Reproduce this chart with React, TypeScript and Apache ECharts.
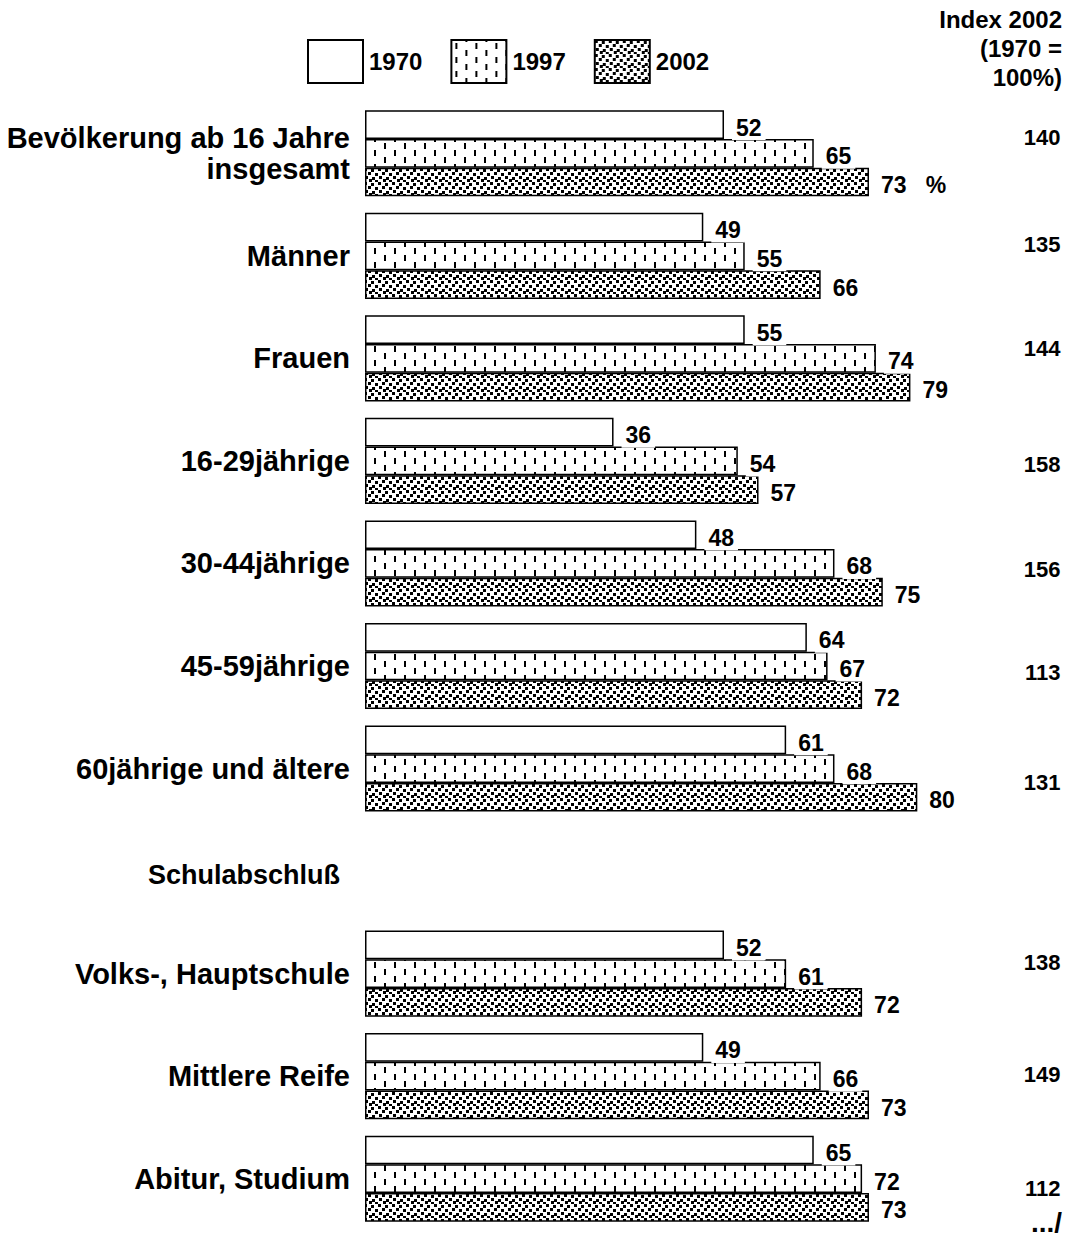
import React, { useEffect, useRef } from "react";
import * as echarts from "echarts";

const categories = [
  "Bevölkerung ab 16 Jahre\ninsgesamt",
  "Männer",
  "Frauen",
  "16-29jährige",
  "30-44jährige",
  "45-59jährige",
  "60jährige und ältere",
  "Schulabschluß",
  "Volks-, Hauptschule",
  "Mittlere Reife",
  "Abitur, Studium",
];
const seriesNames = ["1970", "1997", "2002"];
const v1970: (number | string)[] = [52, 49, 55, 36, 48, 64, 61, "-", 52, 49, 65];
const v1997: (number | string)[] = [65, 55, 74, 54, 68, 67, 68, "-", 61, 66, 72];
const v2002: (number | string)[] = [73, 66, 79, 57, 75, 72, 80, "-", 72, 73, 73];
const index2002 = ["140", "135", "144", "158", "156", "113", "131", "", "138", "149", "112"];
// vertical nudge (px, positive = down) of each index label, as placed in the source
const indexNudge = [-16, -11, -10, 4, 6, 6, 14, 0, -11, -2, 10];

const FONT = '"Liberation Sans", Arial, sans-serif';

function makeDashTile(): string {
  const c = document.createElement("canvas");
  c.width = 20;
  c.height = 14;
  const g = c.getContext("2d")!;
  g.fillStyle = "#fff";
  g.fillRect(0, 0, 20, 14);
  g.fillStyle = "#000";
  g.fillRect(4, 3, 2, 6);
  g.fillRect(14, 10, 2, 4);
  g.fillRect(14, 0, 2, 2);
  return c.toDataURL();
}

function makeDotTile(): string {
  const c = document.createElement("canvas");
  c.width = 14;
  c.height = 14;
  const g = c.getContext("2d")!;
  g.fillStyle = "#fff";
  g.fillRect(0, 0, 14, 14);
  g.fillStyle = "#000";
  const pts = [
    [0, 0], [7, 1], [4, 4], [11, 5], [1, 8], [8, 9], [5, 11], [11, 12],
  ];
  pts.forEach(([x, y]) => g.fillRect(x, y, 3, 3));
  return c.toDataURL();
}

export default function App() {
  const ref = useRef<HTMLDivElement>(null);
  useEffect(() => {
    if (!ref.current) return;
    const chart = echarts.init(ref.current, undefined, { renderer: "svg" });
    const dash = { image: makeDashTile(), repeat: "repeat", imageWidth: 20, imageHeight: 14 };
    const dots = { image: makeDotTile(), repeat: "repeat", imageWidth: 14, imageHeight: 14 };
    const fills: any[] = ["#ffffff", dash, dots];
    const values = [v1970, v1997, v2002];

    const labelBase = {
      show: true,
      position: "right",
      distance: 8,
      offset: [0, 3],
      color: "#000",
      fontFamily: FONT,
      fontWeight: "bold",
      fontSize: 23,
      backgroundColor: "#fff",
      padding: [1, 4],
    };

    const indexRich: Record<string, any> = {};
    indexNudge.forEach((d, i) => {
      indexRich["o" + i] = {
        fontFamily: FONT,
        fontWeight: "bold",
        fontSize: 22,
        color: "#000",
        padding: d >= 0 ? [2 * d, 0, 0, 0] : [0, 0, -2 * d, 0],
      };
    });

    chart.setOption({
      animation: false,
      backgroundColor: "#fff",
      grid: { left: 365, right: 15.6, top: 102, bottom: 13, containLabel: false },
      legend: {
        left: 307,
        top: 39,
        padding: 0,
        icon: "rect",
        itemWidth: 55,
        itemHeight: 43,
        itemGap: 28,
        data: seriesNames,
        textStyle: { fontFamily: FONT, fontWeight: "bold", fontSize: 24, color: "#000", padding: [0, 0, 0, 1] },
      },
      xAxis: {
        type: "value",
        min: 0,
        max: 100,
        show: false,
        splitLine: { show: false },
      },
      yAxis: [
        {
          type: "category",
          inverse: true,
          data: categories,
          axisLine: { show: false },
          axisTick: { show: false },
          axisLabel: {
            margin: 15,
            color: "#000",
            fontFamily: FONT,
            fontWeight: "bold",
            fontSize: 29,
            lineHeight: 31,
            align: "right",
            formatter: (v: string) => (v === "Schulabschluß" ? `{h|${v}}` : v),
            rich: {
              h: {
                fontFamily: FONT,
                fontWeight: "bold",
                fontSize: 27,
                color: "#000",
                padding: [8, 10, 0, 0],
              },
            },
          },
        },
        {
          type: "category",
          inverse: true,
          position: "right",
          data: categories,
          axisLine: { show: false },
          axisTick: { show: false },
          axisLabel: {
            margin: 5,
            align: "right",
            color: "#000",
            fontFamily: FONT,
            fontWeight: "bold",
            fontSize: 22,
            formatter: (_v: string, i: number) =>
              index2002[i] ? `{o${i}|${index2002[i]}}` : "",
            rich: indexRich,
          },
        },
      ],
      series: seriesNames.map((name, si) => ({
        name,
        type: "bar",
        yAxisIndex: 0,
        data: values[si],
        barGap: "0%",
        barCategoryGap: "16%",
        itemStyle: { color: fills[si], borderColor: "#000", borderWidth: 1.5 },
        label: {
          ...labelBase,
          formatter: (p: any) =>
            si === 2 && p.dataIndex === 0 ? `${p.value}   %` : `${p.value}`,
        },
      })),
      graphic: [
        {
          type: "text",
          x: 1062,
          y: 5,
          style: {
            text: "Index 2002\n(1970 =\n100%)",
            align: "right",
            verticalAlign: "top",
            fontFamily: FONT,
            fontWeight: "bold",
            fontSize: 24,
            lineHeight: 29,
            fill: "#000",
          },
        },
        {
          type: "text",
          x: 1062,
          y: 1208,
          style: {
            text: ".../",
            align: "right",
            verticalAlign: "top",
            fontFamily: FONT,
            fontWeight: "bold",
            fontSize: 28,
            fill: "#000",
          },
        },
      ],
    });
    return () => chart.dispose();
  }, []);
  return (
    <div
      ref={ref}
      style={{ position: "absolute", left: 0, top: 0, width: 1071, height: 1243 }}
    />
  );
}
